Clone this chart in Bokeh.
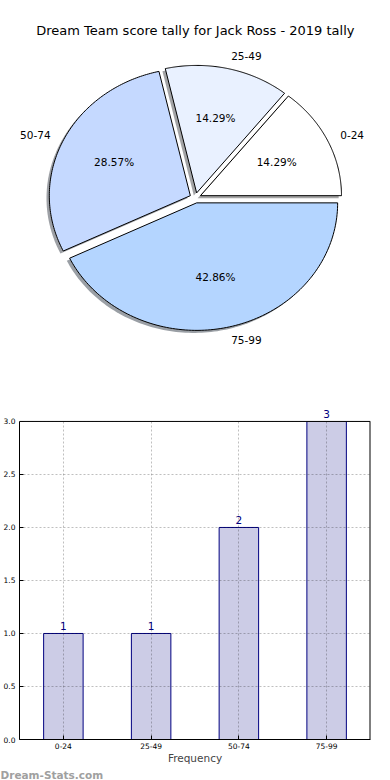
import numpy as np
from bokeh.plotting import figure
from bokeh.layouts import column
from bokeh.models import (Range1d, FactorRange, Label, ColumnDataSource, Title, Span,
                          BoxAnnotation, SingleIntervalTicker, NumeralTickFormatter)
from bokeh.core.properties import value
from bokeh.embed import file_html
from bokeh.resources import INLINE

# ---------------- data ----------------
title = "Dream Team score tally for Jack Ross - 2019 tally"
categories = ["0-24", "25-49", "50-74", "75-99"]
counts = [1, 1, 2, 3]
pie_colors = ["#ffffff", "#e9f1ff", "#c5d9ff", "#b4d5ff"]
explode = [0.04, 0.04, 0.04, 0.04]
y_tick_interval = 0.5
y_max = 3.0
axis_label = "Frequency"
watermark = "Dream-Stats.com"

FONT = "DejaVu Sans"
W = 390
PIE_H = 380
BAR_H = 400
FRAME_L, FRAME_R = 19, 370          # horizontal frame edges (shared by both plots in the column)
CX, CY, RX, RY = 194.9, 197.4, 141.0, 127.5   # pie centre / radii in page pixels

# ---------------- pie ----------------
pie = figure(width=W, height=PIE_H,
             x_range=Range1d((FRAME_L - CX) / RX, (FRAME_R - CX) / RX),
             y_range=Range1d((CY - PIE_H) / RY, CY / RY),
             x_axis_location=None, y_axis_location=None,
             output_backend="svg", toolbar_location=None,
             min_border_left=FRAME_L, min_border_right=W - FRAME_R,
             min_border_top=0, min_border_bottom=0)
pie.grid.visible = False
pie.outline_line_color = None

total = float(sum(counts))
fracs = np.array(counts, dtype=float) / total
edges = np.concatenate([[0.0], np.cumsum(fracs)]) * 2 * np.pi

wx, wy, sx, sy, shadow_cols = [], [], [], [], []
lab_l = dict(x=[], y=[], t=[])
lab_r = dict(x=[], y=[], t=[])
pct = dict(x=[], y=[], t=[])
for i, cat in enumerate(categories):
    a0, a1 = edges[i], edges[i + 1]
    mid = 0.5 * (a0 + a1)
    ox, oy = explode[i] * np.cos(mid), explode[i] * np.sin(mid)
    t = np.linspace(a0, a1, 120)
    x = np.concatenate([[ox], ox + np.cos(t)])
    y = np.concatenate([[oy], oy + np.sin(t)])
    wx.append(list(x)); wy.append(list(y))
    sx.append(list(x - 0.02)); sy.append(list(y - 0.02))
    h = pie_colors[i].lstrip("#")
    r, g, b = (int(h[k:k + 2], 16) for k in (0, 2, 4))
    shadow_cols.append("#%02x%02x%02x" % (int(0.3 * r), int(0.3 * g), int(0.3 * b)))
    d = lab_l if np.cos(mid) >= 0 else lab_r
    d["x"].append(ox + 1.1 * np.cos(mid)); d["y"].append(oy + 1.1 * np.sin(mid)); d["t"].append(cat)
    pct["x"].append(ox + 0.6 * np.cos(mid)); pct["y"].append(oy + 0.6 * np.sin(mid))
    pct["t"].append("%.2f%%" % (fracs[i] * 100))

pie.patches(xs=sx, ys=sy, fill_color=shadow_cols, fill_alpha=0.5, line_color=None)
pie.patches(xs=wx, ys=wy, fill_color=pie_colors, line_color="black", line_width=1)

for d, align in ((lab_l, "left"), (lab_r, "right")):
    pie.text(x=d["x"], y=d["y"], text=d["t"], text_align=align, text_baseline="middle",
             text_font_size="10.5px", text_font=value(FONT), text_color="black")
pie.text(x=pct["x"], y=pct["y"], text=pct["t"], text_align="center", text_baseline="middle",
         text_font_size="10.5px", text_font=value(FONT), text_color="black")

pie.add_layout(Label(x=0.0, y=(CY - 30) / RY, text=title, text_align="center",
                     text_baseline="middle", text_font_size="13px", text_font=FONT,
                     text_color="black"))

# ---------------- bar ----------------
px_per_unit = (740 - 421) / y_max
top_pad = 21 / px_per_unit
bar = figure(width=W, height=BAR_H, x_range=FactorRange(*categories),
             y_range=Range1d(0, y_max + top_pad),
             output_backend="svg", toolbar_location=None,
             min_border_left=FRAME_L, min_border_right=W - FRAME_R,
             min_border_top=20, min_border_bottom=40)
src = ColumnDataSource(dict(cat=categories, count=counts, lab=[str(c) for c in counts]))
bar.vbar(x="cat", top="count", width=0.45, source=src, fill_color="#ccccE6",
         line_color="#000080", line_width=1, level="underlay")

bar.outline_line_color = None
for ax in (bar.xaxis[0], bar.yaxis[0]):
    ax.axis_line_color = "black"
    ax.major_tick_in = 4
    ax.major_tick_out = 0
    ax.minor_tick_in = 0
    ax.minor_tick_out = 0
    ax.major_tick_line_color = "black"
    ax.major_label_text_font_size = "7.5px"
    ax.major_label_text_font = FONT
    ax.major_label_text_color = "black"
bar.yaxis[0].ticker = SingleIntervalTicker(interval=y_tick_interval)
bar.yaxis[0].formatter = NumeralTickFormatter(format="0.0")
bar.yaxis[0].bounds = (0, y_max)
bar.yaxis[0].major_label_standoff = 4
bar.xaxis[0].major_label_standoff = 3
bar.xaxis[0].axis_label = axis_label
bar.xaxis[0].axis_label_text_font_size = "10.5px"
bar.xaxis[0].axis_label_text_font_style = "normal"
bar.xaxis[0].axis_label_text_font = FONT
bar.xaxis[0].axis_label_standoff = 0

bar.grid.grid_line_color = "black"
bar.grid.grid_line_alpha = 0.25
bar.grid.grid_line_dash = "2 2"
bar.grid.grid_line_width = 1
bar.grid.level = "glyph"

# right edge of the axes box
bar.segment(x0=[len(categories)], y0=[0], x1=[len(categories)], y1=[y_max],
            line_color="black", line_width=2, level="glyph")
# white cover above the top of the axes box
bar.add_layout(BoxAnnotation(bottom=y_max, fill_color="white", fill_alpha=1.0,
                             line_color=None, level="guide"))
# top edge of the axes box
bar.add_layout(Span(location=y_max, dimension="width", line_color="black", line_width=1,
                    level="annotation"))

bar.text(x="cat", y="count", text="lab", source=src, y_offset=-3,
         text_align="center", text_baseline="bottom", text_font_size="10.5px",
         text_font=value(FONT), text_color="#000080", level="overlay")

bar.add_layout(Title(text=watermark, align="left", offset=-FRAME_L, standoff=0,
                     text_font_size="10.5px", text_font_style="bold", text_font=FONT,
                     text_color="#a0a0a0"), "below")

layout = column(pie, bar, spacing=0)
open("out.html", "w").write(file_html(layout, INLINE))
